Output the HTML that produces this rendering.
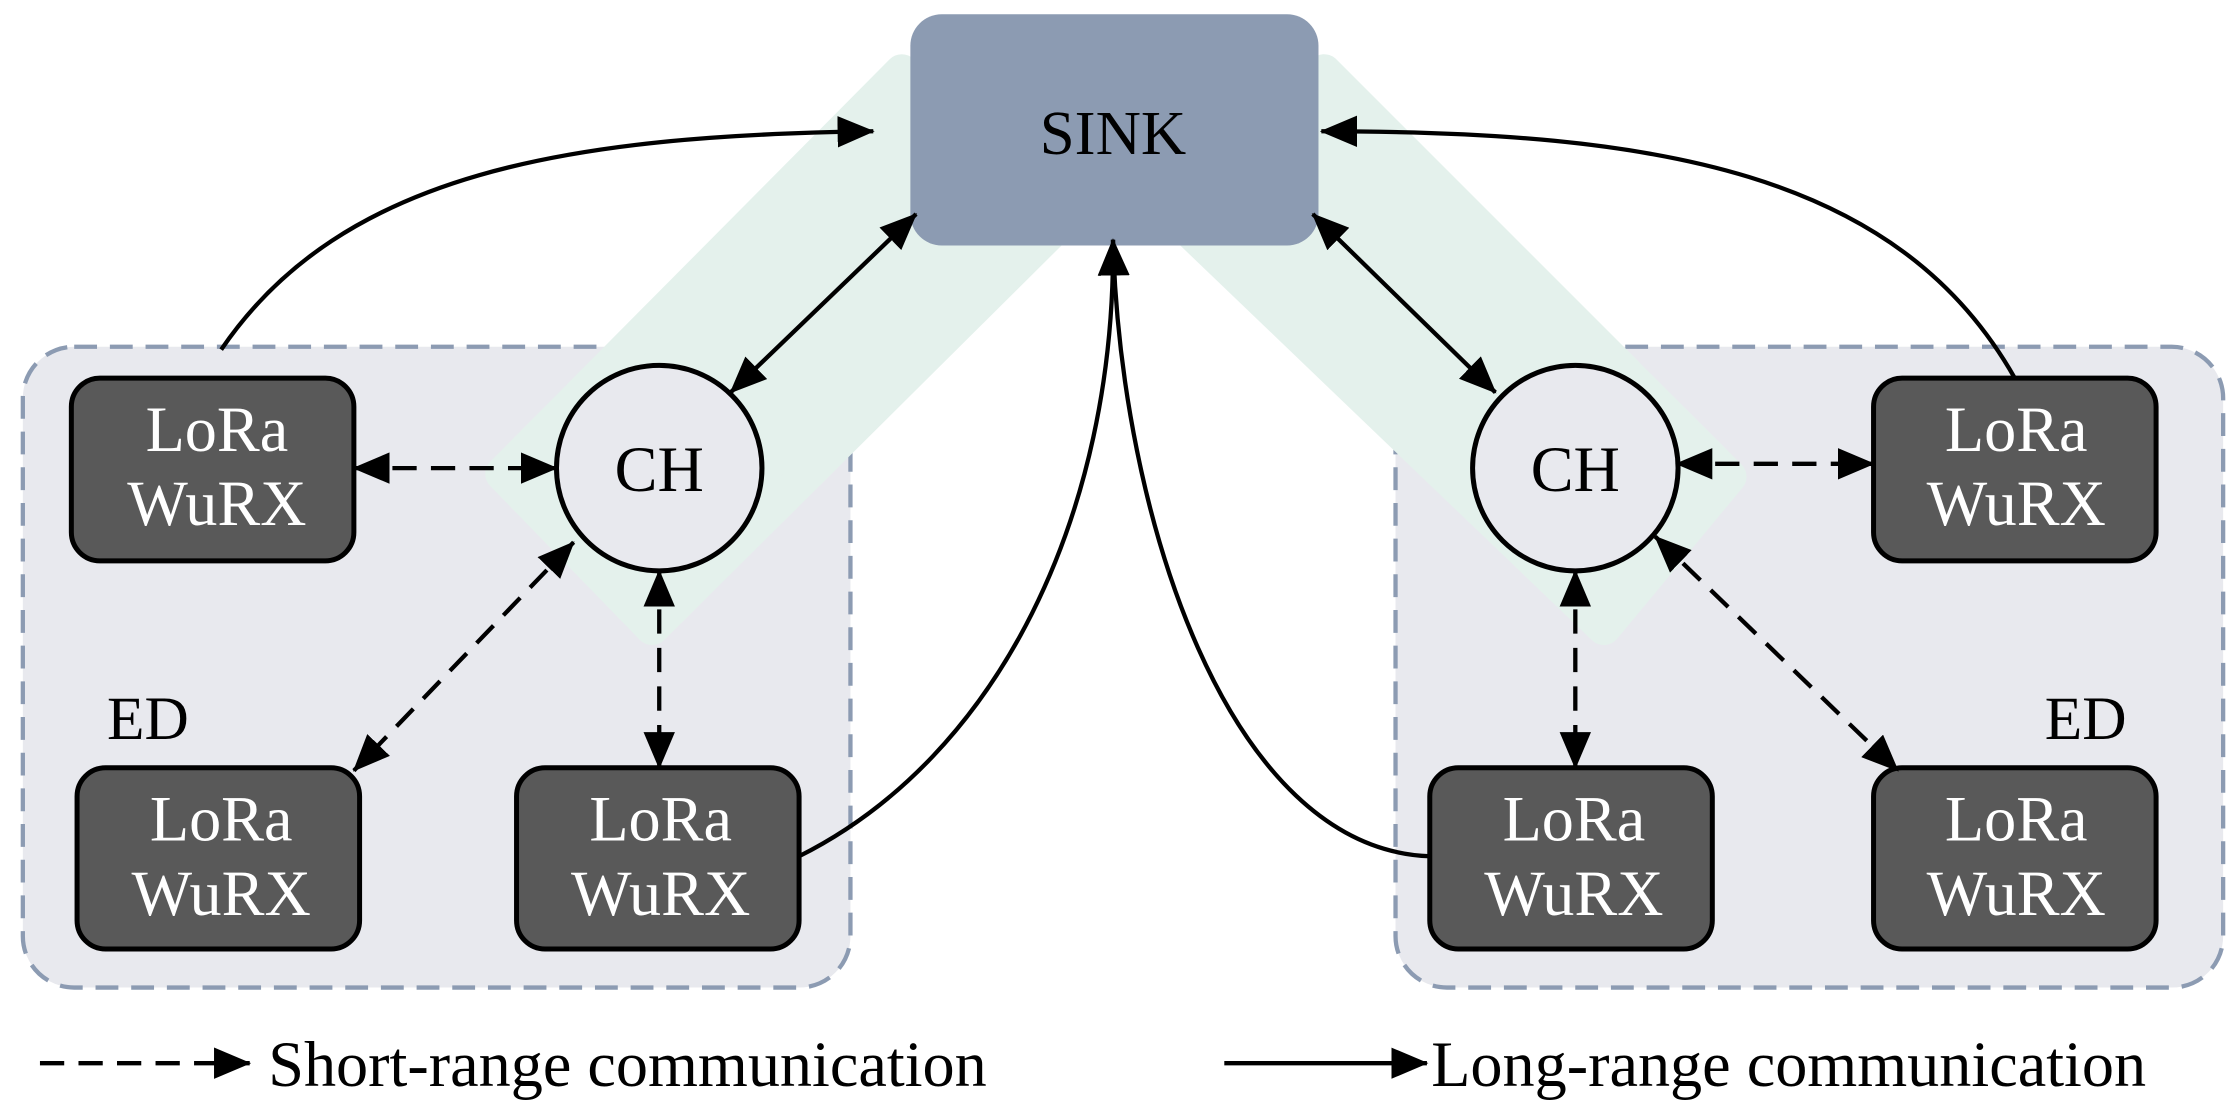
<!DOCTYPE html>
<html><head><meta charset="utf-8"><style>
html,body{margin:0;padding:0;background:#fff}
svg{display:block}
text{font-family:"Liberation Serif",serif}
</style></head><body>
<svg width="2226" height="1106" viewBox="0 0 1560 775" preserveAspectRatio="none" xmlns="http://www.w3.org/2000/svg">
<defs>
<marker id="a" viewBox="0 0 26 22" refX="25" refY="11" markerWidth="26" markerHeight="22" markerUnits="userSpaceOnUse" orient="auto-start-reverse">
<path d="M0,0 L26,11 L0,22 Z" fill="#000"/>
</marker>
</defs>
<rect x="16" y="243" width="580" height="449" rx="36" fill="#e8e9ee" stroke="#8c9bb2" stroke-width="3" stroke-dasharray="16 9"/>
<rect x="978" y="243" width="580" height="449" rx="36" fill="#e8e9ee" stroke="#8c9bb2" stroke-width="3" stroke-dasharray="16 9"/>
<polygon points="352,332 632,50 737,162 457,440" fill="#e4f1ec" stroke="#e4f1ec" stroke-width="24" stroke-linejoin="round"/>
<polygon points="928,50 1212,334 1124,440 834,162" fill="#e4f1ec" stroke="#e4f1ec" stroke-width="24" stroke-linejoin="round"/>
<rect x="638" y="10" width="286" height="162" rx="22" fill="#8c9bb2"/>
<text x="780" y="108" font-size="44" text-anchor="middle">SINK</text>
<circle cx="462" cy="328" r="72" fill="#e8e9ee" stroke="#000" stroke-width="3.5"/>
<text x="462" y="344" font-size="45" text-anchor="middle">CH</text>
<circle cx="1104" cy="328" r="72" fill="#e8e9ee" stroke="#000" stroke-width="3.5"/>
<text x="1104" y="344" font-size="45" text-anchor="middle">CH</text>
<g fill="#595959" stroke="#000" stroke-width="3.5">
<rect x="50" y="265" width="198" height="128" rx="20"/>
<rect x="54" y="538" width="198" height="127" rx="20"/>
<rect x="362" y="538" width="198" height="127" rx="20"/>
<rect x="1313" y="265" width="198" height="128" rx="20"/>
<rect x="1313" y="538" width="198" height="127" rx="20"/>
<rect x="1002" y="538" width="198" height="127" rx="20"/>
</g>
<g fill="#fff" font-size="45" text-anchor="middle">
<text x="152" y="316">LoRa</text><text x="152" y="368">WuRX</text>
<text x="155" y="589">LoRa</text><text x="155" y="641">WuRX</text>
<text x="463" y="589">LoRa</text><text x="463" y="641">WuRX</text>
<text x="1413" y="316">LoRa</text><text x="1413" y="368">WuRX</text>
<text x="1413" y="589">LoRa</text><text x="1413" y="641">WuRX</text>
<text x="1103" y="589">LoRa</text><text x="1103" y="641">WuRX</text>
</g>
<text x="75" y="518" font-size="43">ED</text>
<text x="1433" y="518" font-size="43">ED</text>
<g fill="none" stroke="#000" stroke-width="3">
<path d="M155,245 C240,120 400,95 612,92" marker-end="url(#a)"/>
<path d="M1412,265 C1330,120 1160,92 926,92" marker-end="url(#a)"/>
<path d="M512,275 L642,150" marker-start="url(#a)" marker-end="url(#a)"/>
<path d="M1048,275 L920,150" marker-start="url(#a)" marker-end="url(#a)"/>
<path d="M560,600 C700,530 782,360 780,168" marker-end="url(#a)"/>
<path d="M1002,600 C860,595 785,360 780,168" marker-end="url(#a)"/>
<path d="M858,745 L1000,745" marker-end="url(#a)"/>
</g>
<g fill="none" stroke="#000" stroke-width="3" stroke-dasharray="17 10">
<path d="M248,328 L390,328" marker-start="url(#a)" marker-end="url(#a)"/>
<path d="M402,380 L248,540" marker-start="url(#a)" marker-end="url(#a)"/>
<path d="M462,400 L462,538" marker-start="url(#a)" marker-end="url(#a)"/>
<path d="M1175,325 L1313,325" marker-start="url(#a)" marker-end="url(#a)"/>
<path d="M1160,376 L1330,540" marker-start="url(#a)" marker-end="url(#a)"/>
<path d="M1104,400 L1104,538" marker-start="url(#a)" marker-end="url(#a)"/>
<path d="M28,745 L175,745" marker-end="url(#a)"/>
</g>
<text x="188" y="761" font-size="45">Short-range communication</text>
<text x="1003" y="761" font-size="45">Long-range communication</text>
</svg>
</body></html>
